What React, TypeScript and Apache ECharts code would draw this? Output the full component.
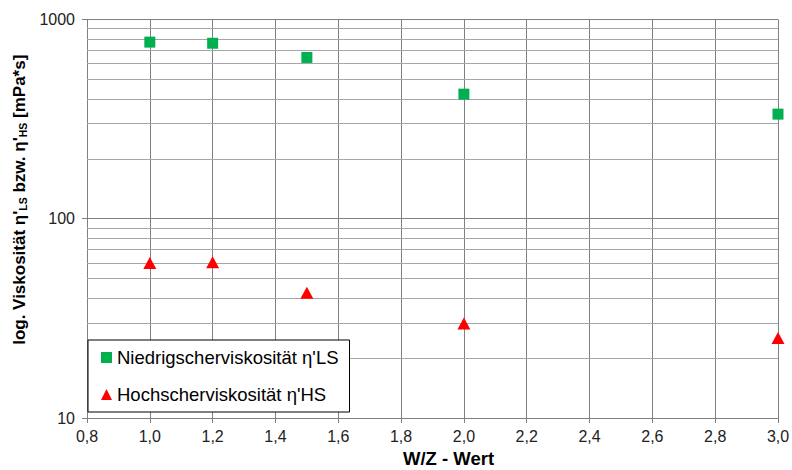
import React, { useEffect, useRef } from "react";
import * as echarts from "echarts";

const wzValues = [1.0, 1.2, 1.5, 2.0, 3.0];
const lowShear = [770, 760, 645, 422, 335];
const highShear = [60, 60.5, 42.5, 29.8, 25.2];
const seriesNames = ["Niedrigscherviskosität η'LS", "Hochscherviskosität η'HS"];
const minorGridValues = [20, 30, 40, 50, 60, 70, 80, 90, 200, 300, 400, 500, 600, 700, 800, 900];

const FONT = "'Liberation Sans', Arial, sans-serif";
const NARROW = "'Liberation Sans Narrow', 'Liberation Sans', Arial, sans-serif";

export default function App() {
  const ref = useRef<HTMLDivElement>(null);
  useEffect(() => {
    if (!ref.current) return;
    const chart = echarts.init(ref.current, null, { renderer: "svg" });
    chart.setOption({
      animation: false,
      backgroundColor: "#ffffff",
      textStyle: { fontFamily: FONT },
      grid: { left: 87, right: 14, top: 19.5, bottom: 52, containLabel: false, outerBoundsMode: "none" },
      legend: {
        orient: "vertical",
        left: 88,
        top: 340,
        data: seriesNames,
        backgroundColor: "#ffffff",
        borderColor: "#000000",
        borderWidth: 1,
        borderRadius: 0,
        padding: [8, 11, 8, 13],
        itemGap: 18,
        itemWidth: 11,
        itemHeight: 11,
        textStyle: { fontSize: 18.5, color: "#000", fontFamily: FONT },
      },
      xAxis: {
        type: "value",
        min: 0.8,
        max: 3.0,
        interval: 0.2,
        name: "W/Z - Wert",
        nameLocation: "middle",
        nameGap: 31,
        nameTextStyle: {
          fontSize: 18.5,
          fontWeight: "bold",
          color: "#000",
          fontFamily: FONT,
          padding: [0, 0, 0, 32],
        },
        axisLine: { show: true, onZero: false, lineStyle: { color: "#808080", width: 1 } },
        axisTick: { show: true, length: 5, lineStyle: { color: "#808080" } },
        axisLabel: {
          fontSize: 16,
          color: "#222",
          margin: 10,
          formatter: (v: number) => v.toFixed(1).replace(".", ","),
        },
        splitLine: { show: true, lineStyle: { color: "#808080", width: 1 } },
      },
      yAxis: {
        type: "log",
        logBase: 10,
        min: 10,
        max: 1000,
        name: "{a|log. Viskosität η'}{s|LS}{a| bzw. η'}{s|HS}{a| [mPa*s]}",
        nameLocation: "middle",
        nameGap: 46,
        nameRotate: 90,
        nameTextStyle: {
          padding: [0, 0, 0, 38],
          rich: {
            a: { fontSize: 17, fontWeight: "bold", color: "#000", fontFamily: NARROW },
            s: { fontSize: 10.5, fontWeight: "bold", color: "#000", fontFamily: NARROW, padding: [8, 0, 0, 0] },
          },
        },
        axisLine: { show: true, lineStyle: { color: "#808080", width: 1 } },
        axisTick: { show: true, length: 5, lineStyle: { color: "#808080" } },
        axisLabel: { fontSize: 16, color: "#222", margin: 12, formatter: (v: number) => String(Math.round(v)) },
        splitLine: { show: true, lineStyle: { color: "#808080", width: 1 } },
        minorTick: { show: false },
        minorSplitLine: { show: false },
      },
      series: [
        {
          name: seriesNames[0],
          type: "scatter",
          symbol: "rect",
          symbolSize: 11,
          itemStyle: { color: "#00B050", opacity: 1 },
          data: wzValues.map((x, i) => [x, lowShear[i]]),
          z: 5,
          markLine: {
            silent: true,
            symbol: ["none", "none"],
            label: { show: false },
            lineStyle: { color: "#a6a6a6", type: "solid", width: 1 },
            data: minorGridValues.map((v) => ({ yAxis: v })),
            z: 1,
          },
        },
        {
          name: seriesNames[1],
          type: "scatter",
          symbol: "triangle",
          symbolSize: [13, 12],
          itemStyle: { color: "#FF0000", opacity: 1 },
          data: wzValues.map((x, i) => [x, highShear[i]]),
          z: 5,
        },
      ],
    });
    return () => chart.dispose();
  }, []);
  return <div ref={ref} style={{ width: 792, height: 470, position: "absolute", left: 0, top: 0 }} />;
}
